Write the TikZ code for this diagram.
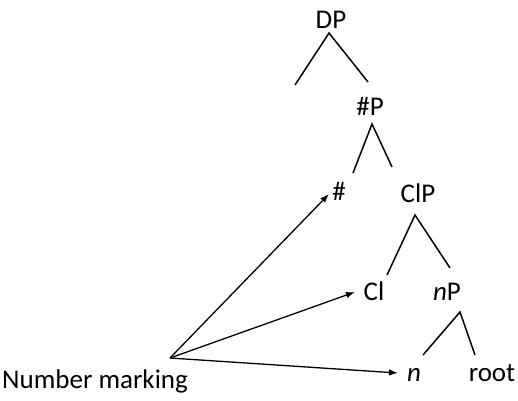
\documentclass[tikz,border=0pt]{standalone}
\usepackage{fontspec}
\setmainfont{Carlito}
\usetikzlibrary{arrows.meta}
\begin{document}
\begin{tikzpicture}[x=1pt,y=-1pt,
  lbl/.style={inner sep=0pt,anchor=base,font=\fontsize{27}{31}\selectfont},
  branch/.style={line width=1.5pt,black},
  arr/.style={line width=1.3pt,-{Latex[length=9pt,width=6.5pt]}}]
  \useasboundingbox (0,0) rectangle (518,400);
  % labels of the tree
  \node[lbl] (dp)   at (331,28)  {DP};
  \node[lbl] (hp)   at (370,115) {\#P};
  \node[lbl] (hash) at (339,200) {\#};
  \node[lbl] (clp)  at (418,202) {ClP};
  \node[lbl] (cl)   at (374,300) {Cl};
  \node[lbl] (np)   at (447,300) {\textit{n}P};
  \node[lbl] (n)    at (414,381) {\textit{n}};
  \node[lbl] (root) at (492,381) {root};
  \node[lbl] (nm)   at (95,388)  {Number marking};
  % branch points
  \coordinate (dpA) at (329,33);  \coordinate (dpL) at (295,85);  \coordinate (dpR) at (368,82);
  \coordinate (hpA) at (372,124); \coordinate (hpL) at (353,173); \coordinate (hpR) at (392,167);
  \coordinate (clA) at (415,215); \coordinate (clL) at (387,275); \coordinate (clR) at (450,268);
  \coordinate (npA) at (460,312); \coordinate (npL) at (423,355); \coordinate (npR) at (475,355);
  \draw[branch] (dpL) -- (dpA) -- (dpR);
  \draw[branch] (hpL) -- (hpA) -- (hpR);
  \draw[branch] (clL) -- (clA) -- (clR);
  \draw[branch] (npL) -- (npA) -- (npR);
  % arrows from the number marking source
  \coordinate (src) at (170,358);
  \coordinate (tHash) at (329,194);
  \coordinate (tCl) at (355,292);
  \coordinate (tN) at (398,373);
  \draw[arr] (src) -- (tHash);
  \draw[arr] (src) -- (tCl);
  \draw[arr] (src) -- (tN);
\end{tikzpicture}
\end{document}
